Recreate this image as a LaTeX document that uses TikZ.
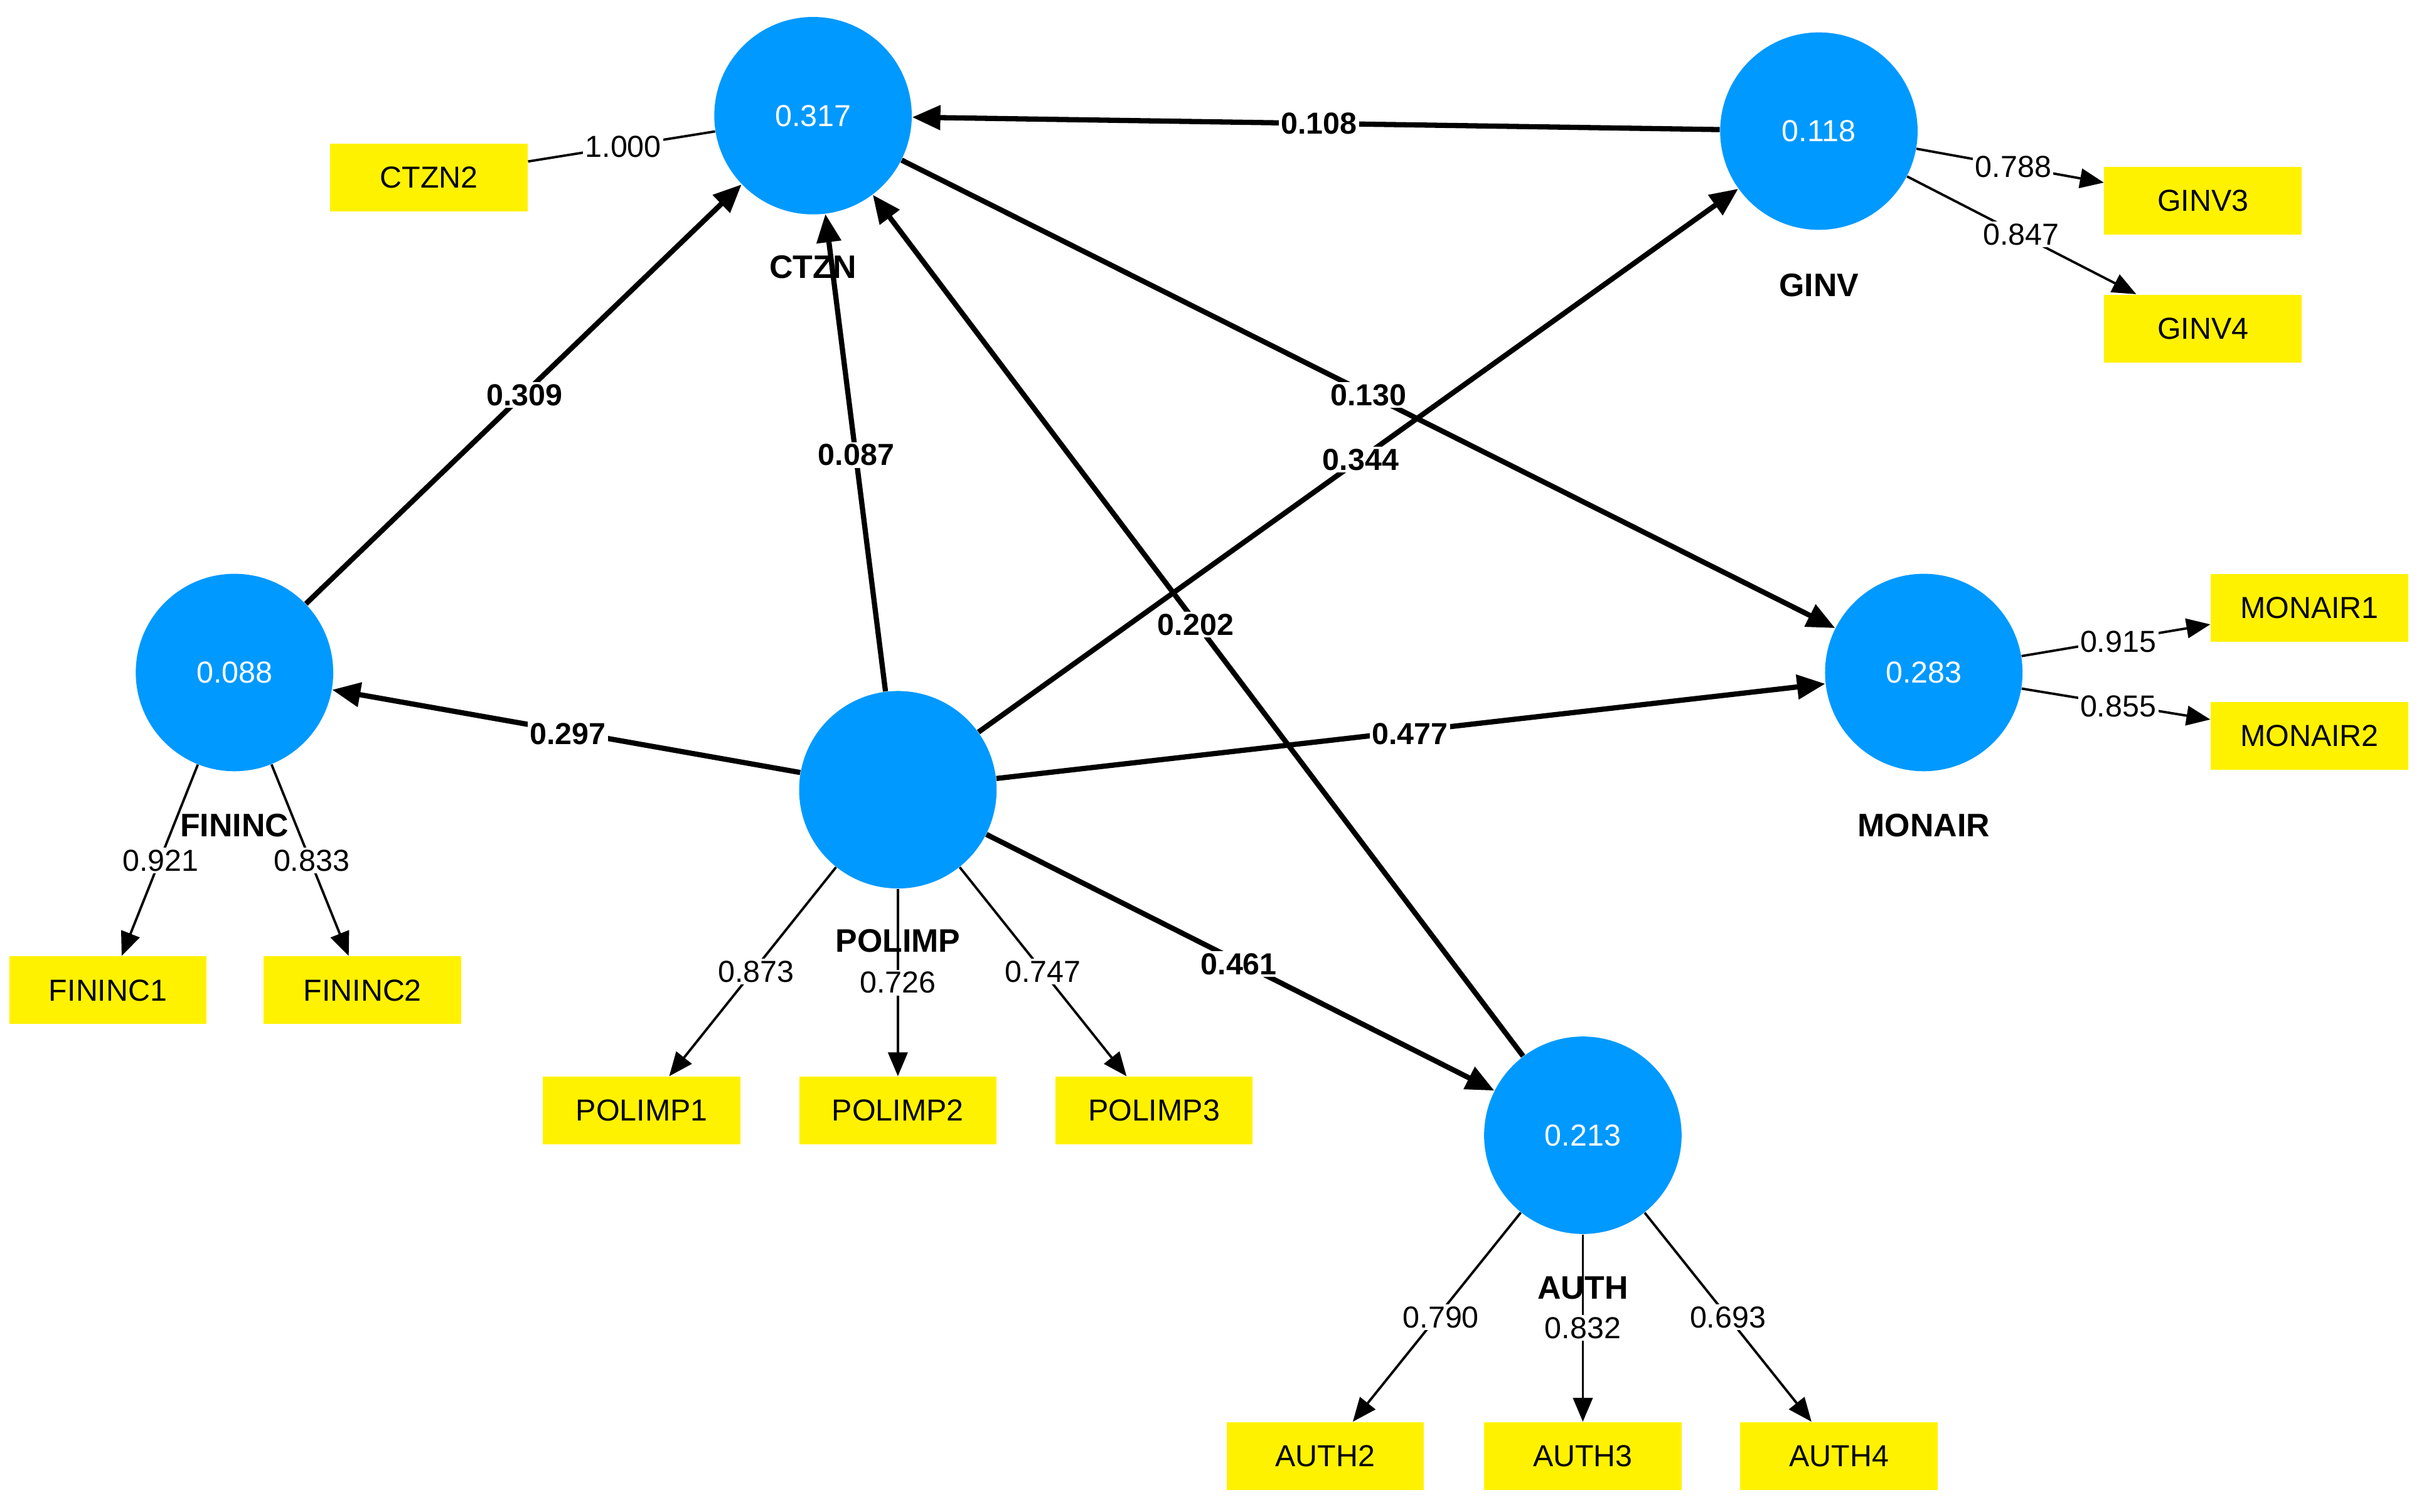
\documentclass[tikz,border=0pt]{standalone}
\usepackage{fontspec}
\setmainfont{Liberation Sans}
\usetikzlibrary{arrows.meta}
\definecolor{lv}{RGB}{0,153,255}
\begin{document}
\begin{tikzpicture}[x=0.025cm,y=-0.025cm,
 lv/.style={circle,fill=lv,minimum size=128*0.025cm,inner sep=0,text=white,font=\fontsize{14}{16}\selectfont},
 ind/.style={rectangle,fill=yellow,minimum width=128*0.025cm,minimum height=44*0.025cm,inner sep=0,font=\fontsize{14}{16}\selectfont},
 nm/.style={font=\bfseries\fontsize{15}{17}\selectfont},
 path/.style={line width=2.4pt,-{Triangle[length=13pt,width=11pt]}},
 load/.style={line width=1.1pt,-{Triangle[length=11pt,width=9pt]}},
 pl/.style={fill=white,inner sep=1pt,font=\bfseries\fontsize{14}{16}\selectfont},
 ll/.style={fill=white,inner sep=1pt,font=\fontsize{14}{16}\selectfont}]
\useasboundingbox (0,0) rectangle (1568,980);
\node[lv] (ctzn) at (527,75) {0.317};
\node[lv] (ginv) at (1179,85) {0.118};
\node[lv] (fin) at (152,436) {0.088};
\node[lv] (pol) at (582,512) {};
\node[lv] (mon) at (1247,436) {0.283};
\node[lv] (auth) at (1026,736) {0.213};
\node[ind] (c2) at (278,115) {CTZN2};
\node[ind] (g3) at (1428,130) {GINV3};
\node[ind] (g4) at (1428,213) {GINV4};
\node[ind] (m1) at (1497,394) {MONAIR1};
\node[ind] (m2) at (1497,477) {MONAIR2};
\node[ind] (f1) at (70,642) {FININC1};
\node[ind] (f2) at (235,642) {FININC2};
\node[ind] (p1) at (416,720) {POLIMP1};
\node[ind] (p2) at (582,720) {POLIMP2};
\node[ind] (p3) at (748,720) {POLIMP3};
\node[ind] (a2) at (859,944) {AUTH2};
\node[ind] (a3) at (1026,944) {AUTH3};
\node[ind] (a4) at (1192,944) {AUTH4};
% loadings
\draw[line width=1.1pt] (ctzn) -- (c2);
\draw[load] (ginv) -- (g3);
\draw[load] (ginv) -- (g4);
\draw[load] (mon) -- (m1);
\draw[load] (mon) -- (m2);
\draw[load] (fin) -- (f1);
\draw[load] (fin) -- (f2);
\draw[load] (pol) -- (p1);
\draw[load] (pol) -- (p2);
\draw[load] (pol) -- (p3);
\draw[load] (auth) -- (a2);
\draw[load] (auth) -- (a3);
\draw[load] (auth) -- (a4);
% names
\node[nm] (nc) at (527,173) {CTZN};
\node[nm] (ng) at (1179,185) {GINV};
\node[nm] (nf) at (152,535) {FININC};
\node[nm] (np) at (582,610) {POLIMP};
\node[nm] (nmo) at (1247,535) {MONAIR};
\node[nm] (na) at (1026,835) {AUTH};
% structural
\draw[path] (fin) -- (ctzn);
\draw[path] (pol) -- (ctzn);
\draw[path] (ginv) -- (ctzn);
\draw[path] (ctzn) -- (mon);
\draw[path] (pol) -- (ginv);
\draw[path] (auth) -- (ctzn);
\draw[path] (pol) -- (fin);
\draw[path] (pol) -- (mon);
\draw[path] (pol) -- (auth);
% path labels
\node[pl] (l1) at (340,256) {0.309};
\node[pl] (l2) at (555,295) {0.087};
\node[pl] (l3) at (855,80) {0.108};
\node[pl] (l4) at (887,256) {0.130};
\node[pl] (l5) at (882,298) {0.344};
\node[pl] (l6) at (775,405) {0.202};
\node[pl] (l7) at (368,476) {0.297};
\node[pl] (l8) at (914,476) {0.477};
\node[pl] (l9) at (803,625) {0.461};
% loading labels
\node[ll] at (404,95) {1.000};
\node[ll] at (1305,108) {0.788};
\node[ll] at (1310,152) {0.847};
\node[ll] at (1373,416) {0.915};
\node[ll] at (1373,458) {0.855};
\node[ll] at (104,558) {0.921};
\node[ll] at (202,558) {0.833};
\node[ll] at (490,630) {0.873};
\node[ll] at (582,637) {0.726};
\node[ll] at (676,630) {0.747};
\node[ll] at (934,854) {0.790};
\node[ll] at (1026,861) {0.832};
\node[ll] at (1120,854) {0.693};
\end{tikzpicture}
\end{document}
